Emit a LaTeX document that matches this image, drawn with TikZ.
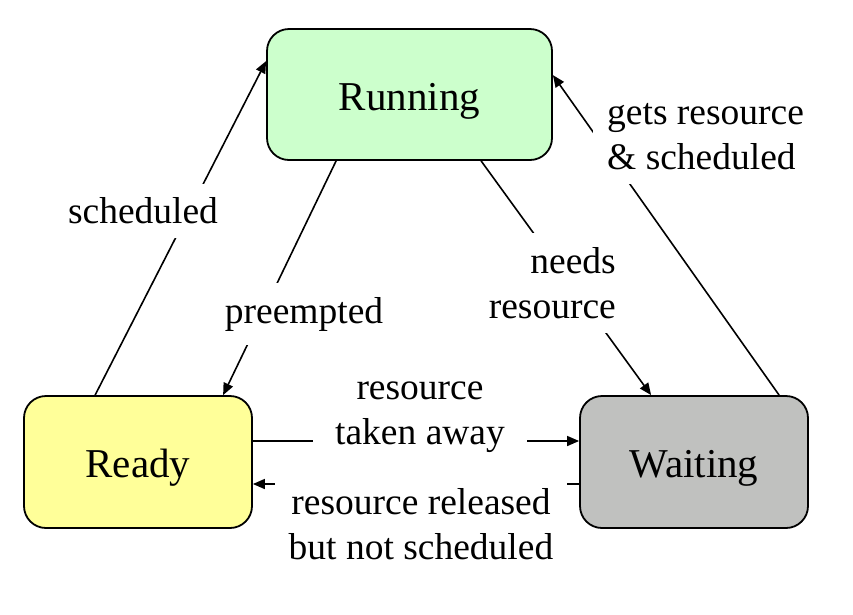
\documentclass[tikz,border=0pt]{standalone}
\usepackage{fontspec}
\setmainfont{Liberation Serif}
\usepackage{xcolor}
\usetikzlibrary{arrows.meta,positioning}
\definecolor{runningfill}{HTML}{CCFFCC}
\definecolor{readyfill}{HTML}{FFFF99}
\definecolor{waitingfill}{HTML}{C0C1BF}
\tikzset{
    state/.style={draw, line width=1.8pt, rounded corners=22pt, minimum width=228pt, minimum height=132pt, text height=31pt, text depth=0pt, font=\fontsize{41}{48}\selectfont},
    lbl/.style={fill=white, inner xsep=14pt, inner ysep=14pt, font=\fontsize{37.5}{45}\selectfont},
    trans/.style={line width=1.6pt, -{Triangle[length=12pt,width=10pt]}}
}
\begin{document}
\begin{tikzpicture}[x=1pt, y=-1pt]
    \useasboundingbox (0,0) rectangle (853,614);

    % States
    \node [state, fill=runningfill, minimum width=285pt, minimum height=131pt] (running) at (409.5,94.5) {Running};
    \node [state, fill=readyfill] (ready) at (138,462) {Ready};
    \node [state, fill=waitingfill] (waiting) at (694,462) {Waiting};

    % Transitions
    \draw [trans] ([xshift=72pt]ready.north west) -- ([yshift=-33pt]running.north west);
    \draw [trans] ([xshift=70pt]running.south west) -- ([xshift=200pt]ready.north west);
    \draw [trans] ([xshift=215pt]running.south west) -- ([xshift=72pt]waiting.north west);
    \draw [trans] ([xshift=200pt]waiting.north west) -- ([yshift=-47pt]running.north east);
    \draw [trans] ([yshift=21pt]ready.east) -- ([yshift=21pt]waiting.west);
    \draw [trans] ([yshift=-22pt]waiting.west) -- ([yshift=-22pt]ready.east);

    % Labels
    \node [lbl] (lsched) at (143,211) {scheduled};
    \node [lbl] (lpreempt) at (304,314) {preempted};
    \node [lbl, align=right, anchor=east] (lneeds) at (630,283) {needs\\resource};
    \node [lbl, align=left, anchor=west] (lgets) at (593,137) {gets resource\\\& scheduled};
    \node [lbl, align=center, inner xsep=22pt] (ltaken) at (420,417) {resource\\taken away};
    \node [lbl, align=center] (lreleased) at (421,524) {resource released\\but not scheduled};
\end{tikzpicture}
\end{document}
